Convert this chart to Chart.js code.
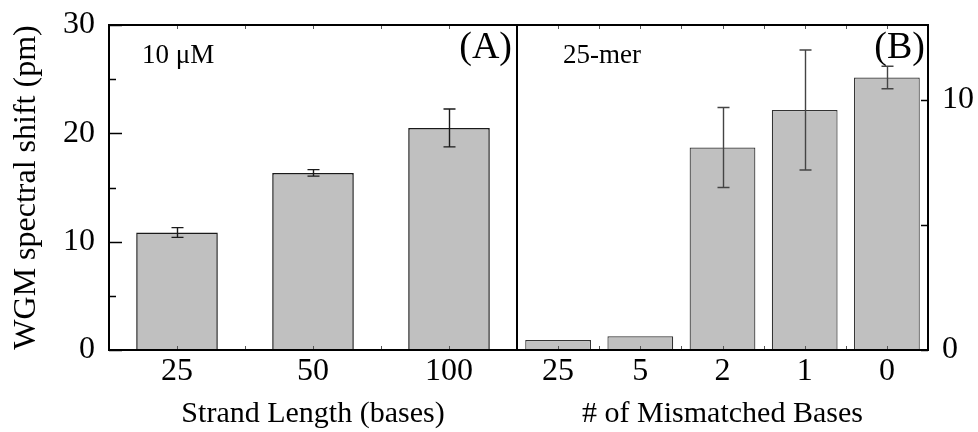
<!DOCTYPE html>
<html>
<head>
<meta charset="utf-8">
<script src="https://cdn.jsdelivr.net/npm/chart.js@4.4.1/dist/chart.umd.min.js"></script>
<style>
  body { margin: 0; background: #fff; }
  #wrap { position: relative; width: 978px; height: 432px; }
  .panel { position: absolute; top: 0; }
</style>
</head>
<body>
<div id="wrap">
  <div class="panel" style="left:0px"><canvas id="graficaA" width="520" height="432"></canvas></div>
  <div class="panel" style="left:500px"><canvas id="graficaB" width="478" height="432"></canvas></div>
</div>
<script>
// Panel (A): longitud de la hebra
const longitudes = ['25', '50', '100'];
const desplazamientoA = [10.85, 16.35, 20.5];
const errorA = [0.45, 0.3, 1.75];
const ticksA = [0, 10, 20, 30];

// Panel (B): bases desapareadas
const desapareadas = ['25', '5', '2', '1', '0'];
const desplazamientoB = [0.4, 0.55, 8.1, 9.6, 10.9];
const errorB = [0, 0, 1.6, 2.4, 0.45];
const ticksB = [0, 10];

const fuente = 'Liberation Serif';
Chart.defaults.font.family = fuente;
Chart.defaults.color = '#000';

// Barras de error, marco, marcas interiores y etiquetas
const marcoPlugin = {
  id: 'marco',
  afterDatasetsDraw(chart, args, opts) {
    const ctx = chart.ctx;
    const area = chart.chartArea;
    const x = chart.scales.x;
    const y = chart.scales.y;
    ctx.save();

    // barras de error
    ctx.strokeStyle = opts.errColor;
    ctx.lineWidth = 1.4;
    opts.valores.forEach((v, i) => {
      const e = opts.errores[i];
      if (!e) return;
      const px = Math.round(x.getPixelForValue(i)) + 0.5;
      const y1 = y.getPixelForValue(v + e);
      const y2 = y.getPixelForValue(v - e);
      ctx.beginPath();
      ctx.moveTo(px, y1); ctx.lineTo(px, y2);
      ctx.moveTo(px - 6, y1); ctx.lineTo(px + 6, y1);
      ctx.moveTo(px - 6, y2); ctx.lineTo(px + 6, y2);
      ctx.stroke();
    });

    // marcas del eje x (centros y limites), hacia adentro
    ctx.strokeStyle = '#555';
    ctx.lineWidth = 1;
    const n = opts.valores.length;
    for (let k = 0; k <= 2 * n; k++) {
      const px = Math.round(x.getPixelForValue(k / 2 - 0.5)) + 0.5;
      ctx.beginPath();
      ctx.moveTo(px, area.bottom); ctx.lineTo(px, area.bottom - 4);
      ctx.moveTo(px, area.top); ctx.lineTo(px, area.top + 4);
      ctx.stroke();
    }

    // marcas del eje y, hacia adentro
    ctx.strokeStyle = '#000';
    ctx.lineWidth = 1.5;
    for (let v = 0; v <= y.max; v += 5) {
      const py = Math.round(y.getPixelForValue(v)) + 0.5;
      const largo = opts.lado === 'left' ? (v % 10 === 0 ? 13 : 7) : 7;
      ctx.beginPath();
      if (opts.lado === 'left') {
        ctx.moveTo(area.left, py); ctx.lineTo(area.left + largo, py);
      } else {
        ctx.moveTo(area.right, py); ctx.lineTo(area.right - largo, py);
      }
      ctx.stroke();
    }

    // marco
    ctx.strokeStyle = '#000';
    ctx.lineWidth = 2;
    ctx.strokeRect(area.left, area.top, area.right - area.left, area.bottom - area.top);

    // textos
    ctx.fillStyle = '#000';
    ctx.textBaseline = 'alphabetic';
    ctx.font = '27px "' + fuente + '"';
    ctx.textAlign = 'left';
    ctx.fillText(opts.nota, opts.notaX, 63);
    ctx.font = '38px "' + fuente + '"';
    ctx.textAlign = 'right';
    ctx.fillText(opts.letra, opts.letraX, 58);
    ctx.restore();
  }
};

// quita los margenes que Chart.js agrega por las etiquetas de los extremos
function sinMargen(s) {
  s.paddingTop = 0; s.paddingBottom = 0;
  s.paddingLeft = 0; s.paddingRight = 0;
}

function crearPanel(canvasId, etiquetas, valores, errores, marcas, maximo, lado, tituloX, tituloY, extra) {
  const ctx = document.getElementById(canvasId).getContext('2d');
  return new Chart(ctx, {
    type: 'bar',
    data: {
      labels: etiquetas,
      datasets: [{
        data: valores,
        backgroundColor: '#c0c0c0',
        borderColor: extra.borde,
        borderWidth: extra.anchoBorde,
        barPercentage: extra.ancho,
        categoryPercentage: 1.0
      }]
    },
    options: {
      responsive: false,
      animation: false,
      devicePixelRatio: 1,
      layout: { padding: extra.padding },
      plugins: {
        legend: { display: false },
        tooltip: { enabled: false },
        marco: {
          valores: valores,
          errores: errores,
          errColor: extra.errColor,
          lado: lado,
          nota: extra.nota,
          notaX: extra.notaX,
          letra: extra.letra,
          letraX: extra.letraX
        }
      },
      scales: {
        x: {
          grid: { display: false, drawTicks: false },
          border: { display: false },
          ticks: { font: { size: 32, lineHeight: 1 }, padding: 6, maxRotation: 0 },
          title: { display: true, text: tituloX, font: { size: 30 }, padding: { top: 0, bottom: 0 } },
          afterFit: s => { s.height = 82; sinMargen(s); }
        },
        y: {
          position: lado,
          min: 0,
          max: maximo,
          grid: { display: false, drawTicks: false },
          border: { display: false },
          afterBuildTicks: s => { s.ticks = marcas.map(v => ({ value: v })); },
          ticks: { font: { size: 32, lineHeight: 1 }, padding: 14 },
          title: { display: !!tituloY, text: tituloY, font: { size: 32 }, padding: { top: 7, bottom: 0 } },
          afterFit: s => { s.width = extra.anchoY; sinMargen(s); }
        }
      }
    },
    plugins: [marcoPlugin]
  });
}

crearPanel('graficaA', longitudes, desplazamientoA, errorA, ticksA, 30, 'left',
  'Strand Length (bases)', 'WGM spectral shift (pm)',
  { borde: '#1a1a1a', anchoBorde: 1.5, ancho: 0.6, errColor: '#1a1a1a',
    padding: { top: 25, right: 3, left: 0, bottom: 0 }, anchoY: 109,
    nota: '10 \u03BCM', notaX: 142, letra: '(A)', letraX: 512 });

crearPanel('graficaB', desapareadas, desplazamientoB, errorB, ticksB, 13, 'right',
  '# of Mismatched Bases', '',
  { borde: '#333', anchoBorde: 1.2, ancho: 0.8, errColor: '#444',
    padding: { top: 25, right: 0, left: 17, bottom: 0 }, anchoY: 50,
    nota: '25-mer', notaX: 63, letra: '(B)', letraX: 425 });
</script>
</body>
</html>
